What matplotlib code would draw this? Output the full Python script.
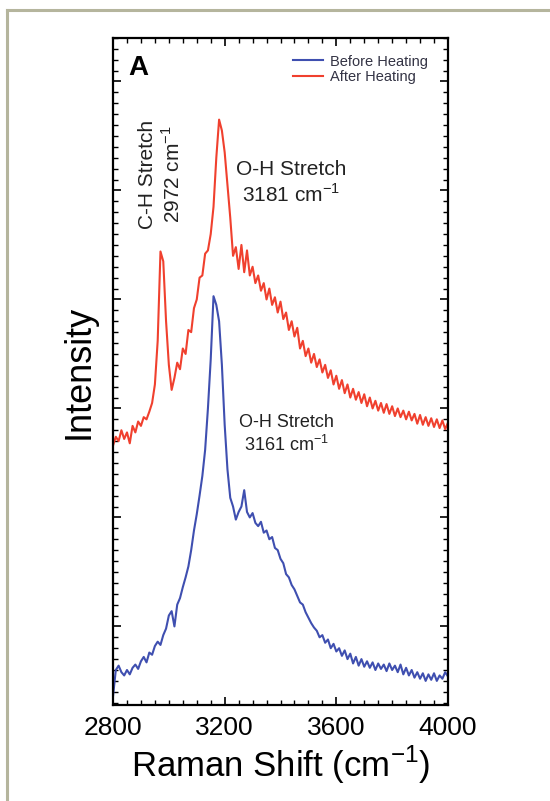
import numpy as np
import matplotlib
matplotlib.use('Agg')
import matplotlib.pyplot as plt
from matplotlib.ticker import MultipleLocator, NullFormatter
from matplotlib.lines import Line2D

plt.rcParams['font.family'] = ['Liberation Sans', 'DejaVu Sans']
plt.rcParams['mathtext.fontset'] = 'custom'
plt.rcParams['mathtext.rm'] = 'Liberation Sans'

# wavenumber grid (cm-1), 10 cm-1 steps
shift = list(range(2800, 4001, 10))

# before heating (blue), arbitrary intensity units
before = [
    0.36, 0.60, 0.64, 0.58, 0.55, 0.60, 0.56, 0.62, 0.65, 0.61,
    0.68, 0.72, 0.67, 0.76, 0.74, 0.82, 0.86, 0.83, 0.92, 0.98,
    1.10, 1.14, 1.00, 1.20, 1.26, 1.36, 1.45, 1.55, 1.70, 1.88,
    2.03, 2.20, 2.38, 2.62, 3.00, 3.45, 4.03, 3.95, 3.80, 3.40,
    2.85, 2.44, 2.18, 2.10, 1.98, 2.05, 2.10, 2.25, 2.05, 2.00,
    2.04, 1.95, 1.92, 1.96, 1.86, 1.88, 1.80, 1.82, 1.72, 1.70,
    1.62, 1.58, 1.48, 1.45, 1.38, 1.34, 1.28, 1.22, 1.20, 1.13,
    1.08, 1.03, 0.99, 0.96, 0.90, 0.92, 0.85, 0.88, 0.80, 0.84,
    0.77, 0.80, 0.73, 0.78, 0.70, 0.75, 0.66, 0.72, 0.64, 0.70,
    0.63, 0.68, 0.62, 0.67, 0.60, 0.66, 0.61, 0.65, 0.59, 0.66,
    0.60, 0.64, 0.58, 0.65, 0.56, 0.62, 0.55, 0.60, 0.53, 0.58,
    0.52, 0.57, 0.50, 0.56, 0.51, 0.57, 0.50, 0.55, 0.52, 0.58,
    0.54,
]

# after heating (red)
after = [
    2.66, 2.74, 2.70, 2.80, 2.72, 2.78, 2.68, 2.84, 2.78, 2.88,
    2.84, 2.92, 2.90, 2.97, 3.05, 3.22, 3.62, 4.44, 4.35, 3.80,
    3.40, 3.17, 3.28, 3.42, 3.36, 3.55, 3.50, 3.72, 3.70, 3.92,
    4.00, 4.20, 4.22, 4.42, 4.45, 4.60, 4.85, 5.30, 5.65, 5.55,
    5.35, 5.05, 4.75, 4.40, 4.48, 4.28, 4.50, 4.25, 4.45, 4.22,
    4.30, 4.15, 4.22, 4.08, 4.15, 4.00, 4.10, 3.95, 4.02, 3.88,
    3.98, 3.82, 3.88, 3.72, 3.80, 3.66, 3.74, 3.55, 3.62, 3.48,
    3.55, 3.42, 3.50, 3.38, 3.45, 3.33, 3.40, 3.28, 3.35, 3.22,
    3.30, 3.18, 3.26, 3.14, 3.22, 3.10, 3.18, 3.08, 3.15, 3.05,
    3.13, 3.02, 3.10, 3.00, 3.07, 2.98, 3.05, 2.96, 3.04, 2.95,
    3.02, 2.93, 3.00, 2.92, 2.98, 2.90, 2.97, 2.89, 2.95, 2.86,
    2.94, 2.85, 2.92, 2.84, 2.91, 2.83, 2.90, 2.82, 2.89, 2.81,
    2.87,
]

labels = ['Before Heating', 'After Heating']
x_ticks = [2800, 3200, 3600, 4000]

fig = plt.figure(figsize=(5.5, 8.01), dpi=100)
ax = fig.add_axes([0.2055, 0.12, 0.609, 0.8327])

ax.plot(shift, before, color='#3f4fb0', lw=1.5, label=labels[0])
ax.plot(shift, after, color='#f0402e', lw=1.5, label=labels[1])

ax.set_xlim(2800, 4000)
ax.set_ylim(0.28, 6.40)
ax.set_xticks(x_ticks)
ax.xaxis.set_minor_locator(MultipleLocator(50))
ax.yaxis.set_major_locator(MultipleLocator(1))
ax.yaxis.set_minor_locator(MultipleLocator(0.1))
ax.yaxis.set_major_formatter(NullFormatter())
ax.tick_params(which='both', direction='in', top=True, right=True)
ax.tick_params(which='major', length=6, width=1.2, labelsize=19, pad=8)
ax.tick_params(which='minor', length=3.5, width=1)
for s in ax.spines.values():
    s.set_linewidth(1.6)

ax.set_xlabel('Raman Shift (cm$^{\\mathregular{-1}}$)', fontsize=25, labelpad=3)
ax.set_ylabel('Intensity', fontsize=26, labelpad=4)

ax.text(0.045, 0.975, 'A', transform=ax.transAxes, fontsize=20,
        fontweight='bold', va='top', ha='left')

leg = ax.legend(loc='upper right', bbox_to_anchor=(0.94, 0.975), frameon=False,
                fontsize=10.5, handlelength=2.0, handletextpad=0.5,
                labelspacing=0.1, borderpad=0, borderaxespad=0)
for t in leg.get_texts():
    t.set_color('#333344')

ax.text(2971, 5.15, 'C-H Stretch\n2972 cm$^{\\mathregular{-1}}$', rotation=90,
        ha='center', va='center', multialignment='center', fontsize=15,
        color='#222222', linespacing=1.2)
ax.text(3437, 5.07, 'O-H Stretch\n3181 cm$^{\\mathregular{-1}}$',
        ha='center', va='center', multialignment='center', fontsize=15,
        color='#222222', linespacing=1.2)
ax.text(3420, 2.76, 'O-H Stretch\n3161 cm$^{\\mathregular{-1}}$',
        ha='center', va='center', multialignment='center', fontsize=13,
        color='#222222', linespacing=1.2)

# light page frame round the figure
fig.add_artist(Line2D([7 / 550, 7 / 550], [0, 1 - 10 / 801], transform=fig.transFigure,
                      color='#b5b59d', lw=2.2))
fig.add_artist(Line2D([7 / 550, 1], [1 - 10 / 801, 1 - 10 / 801], transform=fig.transFigure,
                      color='#b5b59d', lw=2.2))

fig.savefig('out.png', dpi=100)
